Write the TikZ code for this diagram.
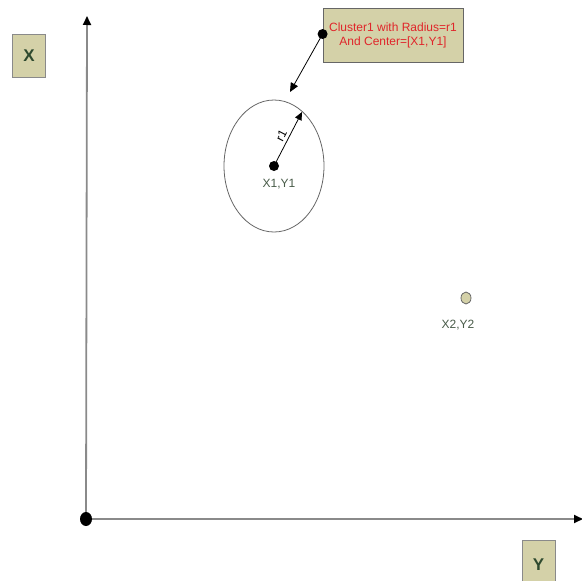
\documentclass[tikz,border=0pt]{standalone}
\usepackage{fontspec}
\setmainfont{Liberation Sans}
\usetikzlibrary{arrows.meta}
\definecolor{boxtan}{HTML}{D4D1A8}
\definecolor{axisgray}{HTML}{8A8A8A}
\definecolor{labelgreen}{HTML}{2F4A2F}
\definecolor{calloutred}{HTML}{E0252A}
\tikzset{
  axislabel/.style={draw=axisgray, fill=boxtan, minimum width=33pt, minimum height=43pt,
    inner sep=0pt, font=\fontsize{17}{17}\selectfont\bfseries, text=labelgreen},
  ptlabel/.style={font=\fontsize{12}{12}\selectfont, text=labelgreen!70!gray}
}
\begin{document}
\begin{tikzpicture}[x=1pt, y=-1pt]
    \useasboundingbox (0,0) rectangle (582,581);
    \coordinate (O) at (86,519);
    \coordinate (C1) at (274,166);
    \coordinate (C2) at (466,298);

    % axes
    \draw[axisgray, line width=1.8pt, -{Triangle[black,length=9pt,width=8pt]}] (O) -- (87,16);
    \draw[axisgray, line width=1.8pt, -{Triangle[black,length=9pt,width=8pt]}] (O) -- (583,519);
    \fill (O) ellipse (6pt and 7pt);

    % axis labels
    \node[axislabel] (labX) at (29,56) {X};
    \node[axislabel, minimum height=50pt] (labY) at (538.5,565) {Y};

    % cluster 1 with radius r1
    \draw[gray!80!black, line width=0.8pt] (C1) ellipse (50pt and 66pt);
    \coordinate (R) at (302,112);
    \draw[line width=0.8pt, -{Triangle[length=8pt,width=7pt]}] (C1) -- (R)
        node[midway, sloped, above=2pt, inner sep=1pt, font=\fontsize{12}{12}\selectfont] (r1) {r1};
    \fill (C1) circle (5pt);
    \node[ptlabel] (p1) at (279,184) {X1,Y1};

    % second point
    \draw[gray!80!black, fill=boxtan, line width=0.8pt] (C2) ellipse (5pt and 6pt);
    \node[ptlabel] (p2) at (458,325) {X2,Y2};

    % callout
    \node[draw=gray!80!black, fill=boxtan, line width=0.8pt, minimum width=140pt, minimum height=54pt,
        text=calloutred, align=center, font=\fontsize{12}{14}\selectfont, inner sep=2pt] (call) at (393,35)
        {Cluster1 with Radius=r1\\And Center=[X1,Y1]};
    \fill (call.west) ++(0,-1) circle (5pt) coordinate (cdot);
    \coordinate (A) at (290,92);
    \draw[line width=0.8pt, -{Triangle[length=9pt,width=8pt]}] (cdot) -- (A);
\end{tikzpicture}
\end{document}
